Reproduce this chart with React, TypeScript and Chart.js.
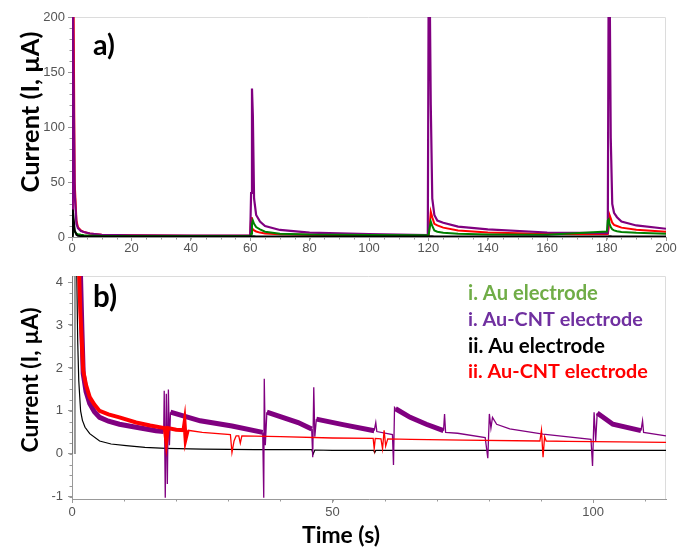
import { useEffect, useRef } from 'react';
import { Chart, registerables } from 'chart.js';

Chart.register(...registerables);

// ---------- Panel a) data (time s, current µA) ----------
const aTime = [0, 0.25, 0.5, 0.9, 1.5, 2, 3, 4, 6, 10, 20, 40, 60, 60.3, 60.6, 60.9, 61.3, 62, 63.3, 65, 70, 80, 100, 119.8, 120.1, 120.4, 120.8, 121.3, 122, 123, 125, 130, 140, 160, 180.1, 180.4, 180.7, 181, 181.4, 181.9, 182.5, 183.5, 185, 190, 200];
const aPurple = [3, 240, 150, 40, 12, 8, 5.5, 4.5, 3.2, 2, 1.6, 1.3, 1.2, 40, 135, 110, 35, 20, 14, 10, 6.4, 4, 2.6, 1.8, 240, 240, 120, 35, 20, 15, 13, 9.5, 7, 4.1, 3.5, 3.6, 240, 240, 90, 30, 22, 18, 14, 10.5, 7.5];
const aRed = [3, 240, 230, 50, 15, 9, 6, 4.5, 3.2, 2, 1.5, 1.2, 1.1, 18, 8, 7, 6, 5, 4, 3.2, 2.5, 2, 1.7, 1.5, 1.6, 10, 23, 18, 12, 10.5, 8.5, 6, 4, 2.8, 2.5, 2.6, 8, 20, 17, 13, 11, 10, 8.5, 6.5, 4.8];
const aGreen = [2, 20, 12, 5, 3, 2.5, 2, 1.6, 1.3, 1, 0.9, 0.8, 0.8, 3, 12, 15, 12, 9, 7, 4.8, 3, 2.2, 1.8, 1.5, 2, 8, 14, 10, 6, 4.8, 3.8, 3, 2.3, 2, 5, 15, 16, 12, 9, 7, 6, 5.2, 4.6, 3.8, 3];
const aBlack = [0, 25, 18, 6, 2, 1.2, 0.8, 0.6, 0.5, 0.5, 0.5, 0.5, 0.5, 0.5, 0.6, 0.6, 0.6, 0.5, 0.5, 0.5, 0.5, 0.5, 0.5, 0.5, 0.5, 0.6, 0.6, 0.6, 0.5, 0.5, 0.5, 0.5, 0.5, 0.5, 0.5, 0.5, 0.6, 0.6, 0.6, 0.5, 0.5, 0.5, 0.5, 0.5, 0.5];

// ---------- Panel b) data ----------
type Pt = [number, number | null];
const bStart: Pt[] = [[0.06, 4.3], [0.06, 0], [0.3, null], [0.57, 4.3], [0.57, 0]];
const bBlack: Pt[] = [[0.9, 4.3], [1.1, 2.6], [1.3, 1.7], [1.65, 1.0], [2, 0.78], [2.5, 0.62], [3.4, 0.47], [5.3, 0.3], [7.5, 0.23], [10.4, 0.19], [14, 0.15], [18, 0.13], [25, 0.11], [35, 0.1], [46, 0.1], [46.3, 0.0], [46.6, 0.09], [50, 0.08], [57.9, 0.08], [58.1, 0.03], [58.3, 0.08], [80, 0.08], [100, 0.08], [114, 0.08]];
const bRed: Pt[] = [[1.35, 4.3], [1.6, 3.3], [2.15, 1.94], [2.7, 1.6], [3.4, 1.32], [4.3, 1.15], [5.3, 1.0], [7, 0.92], [9.1, 0.85], [12.3, 0.73], [15, 0.66], [17.8, 0.6], [18.1, 0.3], [18.4, 0.6], [20, 0.56], [21.4, 0.55], [21.6, 0.72], [21.8, 0.35], [22.2, 0.55], [25, 0.5], [30.4, 0.45], [30.7, 0.03], [31.1, 0.3], [31.5, 0.42], [32, 0.42], [32.3, 0.25], [32.6, 0.42], [40, 0.4], [50, 0.37], [57.8, 0.36], [58, 0.12], [58.2, 0.36], [59.3, 0.35], [59.6, 0.12], [59.9, 0.55], [60.2, 0.18], [60.6, 0.35], [65, 0.34], [75, 0.32], [89.8, 0.3], [90.1, 0.55], [90.4, -0.08], [90.7, 0.4], [91, 0.3], [95, 0.29], [105, 0.28], [114, 0.27]];
const bPurple: Pt[] = [[1.6, 4.3], [1.9, 2.9], [2.15, 1.87], [2.7, 1.45], [3.4, 1.17], [4.3, 0.98], [5.3, 0.85], [7, 0.76], [9.1, 0.69], [12.3, 0.62], [16.1, 0.54], [17.6, 0.52], [17.7, 1.47], [17.9, -1.02], [18.1, 1.4], [18.3, -0.7], [18.5, 1.5], [18.7, 0.2], [18.9, 0.97], [24.6, 0.77], [30.7, 0.65], [36.6, 0.5], [36.8, -1.02], [36.9, 1.75], [37.1, 0.2], [37.4, 0.97], [43.4, 0.73], [46, 0.58], [46.2, -0.08], [46.4, 1.55], [46.6, 0.4], [46.9, 0.81], [52, 0.68], [58, 0.54], [58.3, 0.73], [58.5, 0.52], [61.5, 0.45], [61.7, -0.26], [61.9, 1.08], [62.1, 1.05], [64.9, 0.85], [68, 0.69], [71.3, 0.54], [71.5, 0.93], [71.7, 0.5], [74, 0.48], [79.3, 0.38], [79.8, -0.1], [80.1, 0.93], [80.4, 0.6], [80.7, 0.85], [81.5, 0.69], [84, 0.58], [90.4, 0.46], [99.6, 0.34], [99.9, -0.28], [100.2, 0.97], [100.5, 0.3], [100.8, 0.95], [103.8, 0.69], [109.2, 0.54], [109.5, 0.77], [109.7, 0.5], [114, 0.42]];
const bPurpleNoisy = [[1.6, 17.6], [18.9, 36.6], [37.4, 46], [46.9, 58], [62.1, 71.3], [100.8, 109.2]];
const bRedNoisy = [[1.3, 22]];

const legendLabels = ['i. Au electrode', 'i. Au-CNT electrode', 'ii. Au electrode', 'ii. Au-CNT electrode'];
const legendColors = ['#70AD47', '#7030A0', '#000000', '#FF0000'];
const yTitle = 'Current (I, µA)';
const xTitle = 'Time (s)';

const PURPLE = '#800080';
const RED = '#FF0000';
const GREEN = '#008000';
const BLACK = '#000000';
const FAMILY = 'Lato, "Open Sans", sans-serif';
const TICK_FONT = { family: '"Liberation Sans", Arial, sans-serif', size: 13 };

function toXY(t: number[], v: number[]) {
  return t.map((x, i) => ({ x, y: v[i] }));
}
function pairs(p: Pt[]) {
  return p.map(([x, y]) => ({ x, y }));
}
function inRanges(x: number, r: number[][]) {
  return r.some(([a, b]) => x >= a && x < b);
}

function drawLabel(ctx: CanvasRenderingContext2D, text: string, x: number, y: number, width: number, color: string, align: CanvasTextAlign = 'left', rotate = false) {
  ctx.save();
  ctx.font = `bold 100px ${FAMILY}`;
  const size = (100 * width) / ctx.measureText(text).width;
  ctx.font = `bold ${size}px ${FAMILY}`;
  ctx.fillStyle = color;
  ctx.textAlign = align;
  ctx.textBaseline = 'middle';
  ctx.translate(x, y);
  if (rotate) ctx.rotate(-Math.PI / 2);
  ctx.fillText(text, 0, 0);
  ctx.restore();
}

function decoPlugin(xStep: number, yStep: number, drawTexts: (ctx: CanvasRenderingContext2D) => void) {
  return {
    id: 'deco',
    beforeDatasetsDraw(chart: any) {
      const { ctx, chartArea: a } = chart;
      ctx.save();
      ctx.strokeStyle = '#dcdcdc';
      ctx.lineWidth = 1;
      ctx.beginPath();
      ctx.moveTo(a.left, a.top + 0.5);
      ctx.lineTo(a.right - 0.5, a.top + 0.5);
      ctx.lineTo(a.right - 0.5, a.bottom);
      ctx.stroke();
      ctx.restore();
    },
    afterDraw(chart: any) {
      const { ctx, chartArea: a, scales } = chart;
      const x = scales.x;
      const y = scales.y;
      ctx.save();
      ctx.strokeStyle = '#999';
      ctx.lineWidth = 1;
      ctx.beginPath();
      for (let v = Math.ceil(x.min / xStep) * xStep; v <= x.max + 1e-9; v += xStep) {
        const px = Math.round(x.getPixelForValue(v)) + 0.5;
        ctx.moveTo(px, a.bottom);
        ctx.lineTo(px, a.bottom + 2.5);
      }
      for (let v = Math.ceil(y.min / yStep) * yStep; v <= y.max + 1e-9; v += yStep) {
        const py = Math.round(y.getPixelForValue(v)) + 0.5;
        ctx.moveTo(a.left, py);
        ctx.lineTo(a.left - 2.5, py);
      }
      ctx.stroke();
      ctx.restore();
      drawTexts(ctx);
    },
  };
}

function axis(min: number, max: number, step: number, pad: number, fit: (s: any) => void) {
  return {
    type: 'linear' as const,
    min,
    max,
    afterFit: fit,
    ticks: { stepSize: step, color: '#555', font: TICK_FONT, padding: pad, autoSkip: false, includeBounds: false, maxRotation: 0 },
    grid: { drawOnChartArea: false, drawTicks: true, tickLength: 4, color: '#999' },
    border: { display: true, color: '#999' },
  };
}

function line(data: any[], color: string, width: number, extra: any = {}) {
  return { data, borderColor: color, backgroundColor: color, borderWidth: width, pointRadius: 0, tension: 0, clip: 0, fill: false, ...extra };
}

export default function App() {
  const refA = useRef<HTMLCanvasElement>(null);
  const refB = useRef<HTMLCanvasElement>(null);

  useEffect(() => {
    const chartA = new Chart(refA.current!, {
      type: 'line',
      data: {
        datasets: [
          line(toXY(aTime, aBlack), BLACK, 2),
          line(toXY(aTime, aGreen), GREEN, 2),
          line(toXY(aTime, aPurple), PURPLE, 2.2),
          line(toXY(aTime, aRed), RED, 2),
        ],
      },
      options: {
        responsive: false,
        animation: false,
        events: [],
        layout: { padding: { top: 17, right: 11, left: 0, bottom: 0 } },
        plugins: { legend: { display: false }, tooltip: { enabled: false } },
        scales: {
          x: axis(0, 200, 20, 0, (s: any) => { s.height = 25; }),
          y: axis(0, 200, 50, 3, (s: any) => { s.width = 72; }),
        },
      },
      plugins: [
        decoPlugin(5, 10, (ctx) => {
          drawLabel(ctx, 'a)', 93, 46, 22, '#000');
          drawLabel(ctx, yTitle, 30.5, 112, 161, '#000', 'center', true);
        }),
      ],
    } as any);

    const chartB = new Chart(refB.current!, {
      type: 'line',
      data: {
        datasets: [
          line(pairs(bRed), RED, 1.3, { segment: { borderWidth: (c: any) => (inRanges(c.p0.parsed.x, bRedNoisy) ? 4 : 1.3) } }),
          line(pairs(bPurple), PURPLE, 1.3, { segment: { borderWidth: (c: any) => (inRanges(c.p0.parsed.x, bPurpleNoisy) ? 5 : 1.3) } }),
          line(pairs(bBlack), BLACK, 1.2),
          line(pairs(bStart), '#7a7a7a', 1.5),
        ],
      },
      options: {
        responsive: false,
        animation: false,
        events: [],
        layout: { padding: { top: 14, right: 11, left: 0, bottom: 0 } },
        plugins: { legend: { display: false }, tooltip: { enabled: false } },
        scales: {
          x: axis(0, 114, 50, 2, (s: any) => { s.height = 48; }),
          y: axis(-1.05, 4.14, 1, 5, (s: any) => { s.width = 72; }),
        },
      },
      plugins: [
        decoPlugin(10, 0.25, (ctx) => {
          drawLabel(ctx, 'b)', 93, 35, 24, '#000');
          drawLabel(ctx, yTitle, 30.5, 118, 145, '#000', 'center', true);
          drawLabel(ctx, xTitle, 341, 274, 78, '#000', 'center');
          const ys = [31, 58, 84, 110];
          const ws = [130, 175, 137, 180];
          legendLabels.forEach((t, i) => drawLabel(ctx, t, 468, ys[i], ws[i], legendColors[i]));
        }),
      ],
    } as any);

    return () => {
      chartA.destroy();
      chartB.destroy();
    };
  }, []);

  return (
    <div style={{ position: 'absolute', left: 0, top: 0, width: 677, height: 547, background: '#fff' }}>
      <canvas ref={refA} width={677} height={262} style={{ position: 'absolute', left: 0, top: 0 }} />
      <canvas ref={refB} width={677} height={285} style={{ position: 'absolute', left: 0, top: 262 }} />
    </div>
  );
}
